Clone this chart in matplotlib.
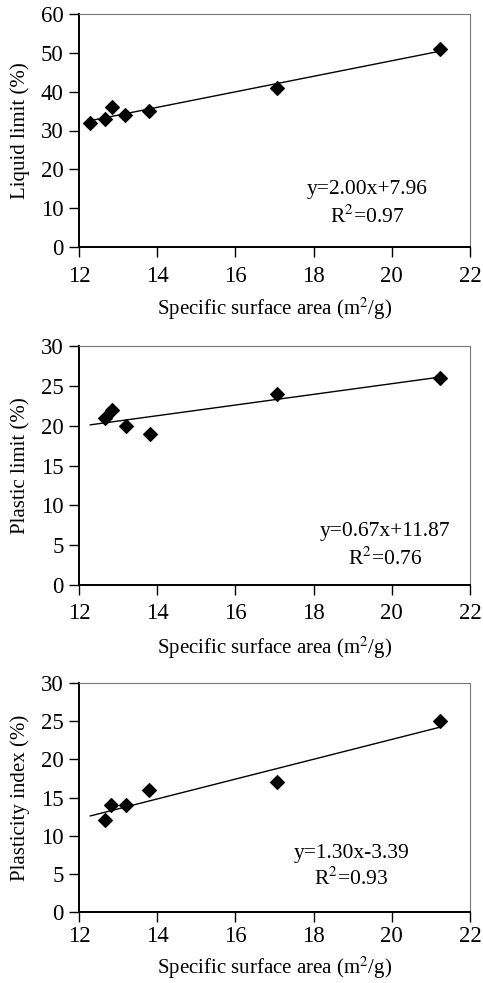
import matplotlib
matplotlib.use("Agg")
import matplotlib.pyplot as plt
import numpy as np

plt.rcParams['font.family'] = ['Liberation Serif', 'DejaVu Serif']
plt.rcParams['mathtext.fontset'] = 'stix'

ssa_ll = [12.29, 12.67, 12.84, 13.18, 13.79, 17.06, 21.23]
liquid_limit = [32, 33, 36, 34, 35, 41, 51]

ssa_pl = [12.67, 12.84, 13.21, 13.82, 17.06, 21.23]
plastic_limit = [21, 22, 20, 19, 24, 26]

ssa_pi = [12.67, 12.82, 13.19, 13.79, 17.06, 21.23]
plasticity_index = [12, 14, 14, 16, 17, 25]

fit_range = [12.29, 21.23]
fits = [(2.00, 7.96), (0.67, 11.87), (1.30, -3.39)]
eq_texts = ["y=2.00x+7.96", "y=0.67x+11.87", "y=1.30x-3.39"]
r2_texts = ["R$^2$=0.97", "R$^2$=0.76", "R$^2$=0.93"]
ylabels = ["Liquid limit (%)", "Plastic limit (%)", "Plasticity index (%)"]
ylims = [(0, 60, 10), (0, 30, 5), (0, 30, 5)]
eq_pos = [(19.38, 14.7, 7.7), (19.82, 6.7, 3.35), (18.97, 7.7, 4.4)]

W, H = 483, 983
fig = plt.figure(figsize=(W/100, H/100), dpi=100)

# axes boxes in pixels: left, right, top, bottom
boxes = [(79, 470, 14, 247), (79, 470, 346, 585), (79, 470, 683, 912)]
xpads = [7, 6, 3]
xlabel_off = [49, 50, 43]
xs_list = [ssa_ll, ssa_pl, ssa_pi]
ys_list = [liquid_limit, plastic_limit, plasticity_index]

for i in range(3):
    l, r, t, b = boxes[i]
    ax = fig.add_axes([l/W, 1 - b/H, (r-l)/W, (b-t)/H])
    ax.scatter(xs_list[i], ys_list[i], marker='D', s=48, color='black', zorder=3)
    m, c = fits[i]
    fx = np.array(fit_range)
    ax.plot(fx, m*fx + c, color='black', lw=1.0)
    ax.set_xlim(12, 22)
    lo, hi, st = ylims[i]
    ax.set_ylim(lo, hi)
    ax.set_yticks(np.arange(lo, hi + st/2, st))
    ax.set_xticks(np.arange(12, 23, 2))
    ax.tick_params(direction='out', length=7, width=1, labelsize=16.5)
    ax.tick_params(axis='x', pad=xpads[i])
    ax.tick_params(axis='y', pad=4)
    for s in ['left', 'bottom']:
        ax.spines[s].set_linewidth(1.4)
        ax.spines[s].set_color('black')
    for s in ['top', 'right']:
        ax.spines[s].set_linewidth(0.8)
        ax.spines[s].set_color('#777777')
    ax.set_ylabel(ylabels[i], fontsize=15)
    ax.yaxis.set_label_coords((30-l)/(r-l), 0.5)
    ax.set_xlabel("Specific surface area (m$^2$/g)", fontsize=15)
    ax.xaxis.set_label_coords(0.5, -xlabel_off[i]/(b-t))
    ex, ey, ry = eq_pos[i]
    ax.text(ex, ey, eq_texts[i], ha='center', va='center', fontsize=15.5)
    ax.text(ex, ry, r2_texts[i], ha='center', va='center', fontsize=15.5)

fig.savefig("out.png", dpi=100)
